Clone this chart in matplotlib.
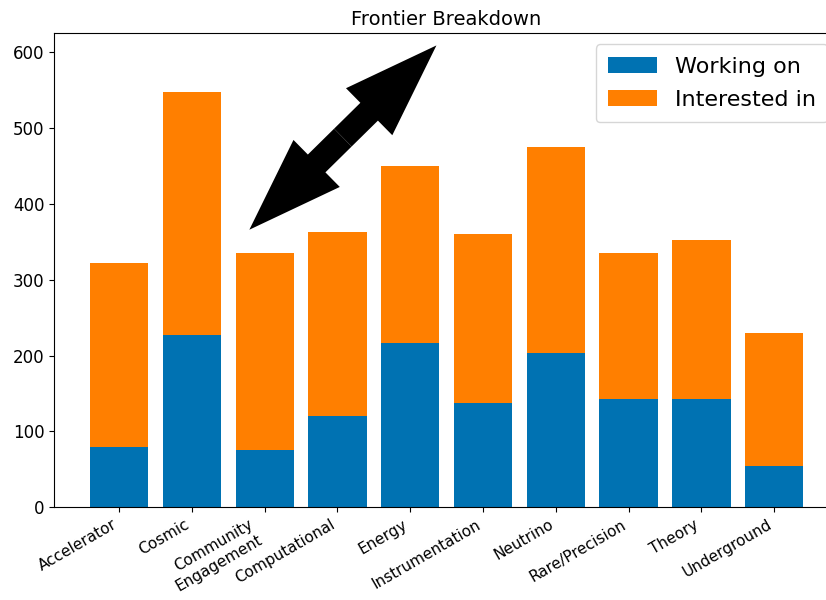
import matplotlib
matplotlib.use("Agg")
import matplotlib.pyplot as plt
import numpy as np

frontiers = ["Accelerator", "Cosmic", "Community\nEngagement", "Computational",
             "Energy", "Instrumentation", "Neutrino", "Rare/Precision",
             "Theory", "Underground"]
working_on = [79, 227, 76, 121, 216, 137, 204, 143, 143, 54]
total = [322, 548, 335, 363, 450, 360, 475, 335, 353, 230]
interested_in = [t - w for t, w in zip(total, working_on)]

blue = "#0072b2"
orange = "#ff7f00"

fig = plt.figure(figsize=(8.26, 6), dpi=100)
# axes runs a little past the right edge of the canvas
ax = fig.add_axes([0.0657, 0.1545, 0.950, 0.790])

x = np.arange(len(frontiers))
ax.bar(x, working_on, color=blue, label="Working on")
ax.bar(x, interested_in, bottom=working_on, color=orange, label="Interested in")

ax.set_ylim(0, 625)
ax.set_xticks(x)
ax.set_xticklabels(frontiers, rotation=30, ha="right", fontsize=11)
ax.tick_params(axis="y", labelsize=12)
ax.set_title("Frontier Breakdown", fontsize=14)
ax.legend(loc="upper right", fontsize=16, borderpad=0.55, labelspacing=0.6,
          handlelength=2.2)

# big double-headed arrow, drawn as two halves meeting in the middle
lo = (1.79, 366)
hi = (4.36, 609)
mid = ((lo[0] + hi[0]) / 2, (lo[1] + hi[1]) / 2)
style = "simple,head_length=6.8,head_width=4.75,tail_width=1.8"
for end in (lo, hi):
    ax.annotate("", xy=end, xytext=mid,
                arrowprops=dict(arrowstyle=style, mutation_scale=10,
                                facecolor="black", edgecolor="none",
                                shrinkA=0, shrinkB=0))

fig.savefig("out.png", dpi=100)
